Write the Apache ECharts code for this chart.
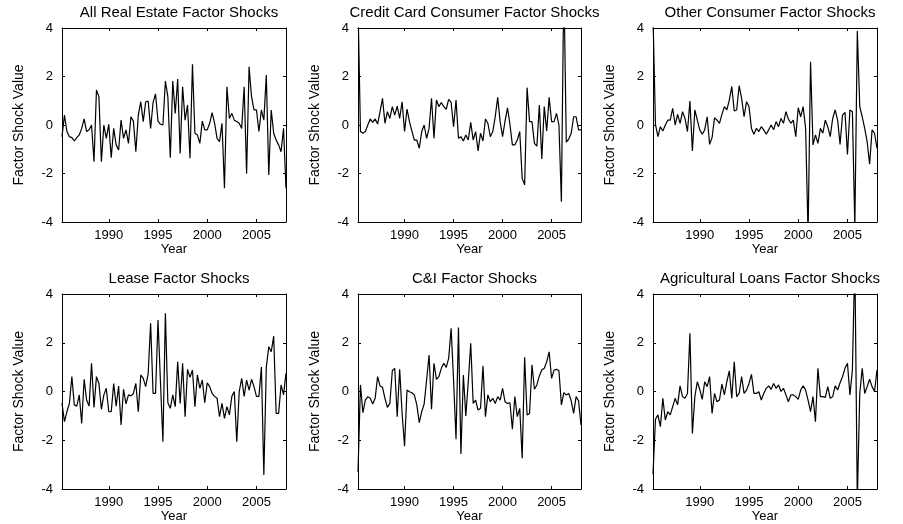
<!DOCTYPE html>
<html>
<head>
<meta charset="utf-8">
<script src="https://cdn.jsdelivr.net/npm/echarts@6/dist/echarts.min.js"></script>
<style>
  html, body { margin: 0; padding: 0; background: #fff; }
  #chart { width: 903px; height: 524px; }
</style>
</head>
<body>
<div id="chart"></div>
<script>
// quarterly factor shocks, first quarter plotted at 1985.25
const firstQuarter = 1985.25;
const lastQuarter = 2008;
const yearTicks = [1990, 1995, 2000, 2005];
const shockTicks = [-4, -2, 0, 2, 4];

const panelTitles = [
  'All Real Estate Factor Shocks',
  'Credit Card Consumer Factor Shocks',
  'Other Consumer Factor Shocks',
  'Lease Factor Shocks',
  'C&I Factor Shocks',
  'Agricultural Loans Factor Shocks'
];

const realEstate = [
  -0.48, 0.41, -0.27, -0.48, -0.52, -0.66, -0.52, -0.41, -0.14, 0.25,
  -0.27, -0.2, 0, -1.51, 1.44, 1.17, -1.51, 0, -0.55, 0.03,
  -1.35, -0.14, -0.82, -1.03, 0.2, -0.55, -0.2, -0.76, 0.34, 0.16,
  -1.1, 0.41, 0.96, 0.14, 0.96, 0.99, -0.14, 0.93, 1.28, 0.16,
  0.03, 0, 1.81, 1.17, -1.35, 1.81, 0.48, 1.9, -1.17, 1.58,
  0.2, 0.82, -1.37, 2.5, -0.34, -0.41, -0.76, 0.16, -0.2, -0.2,
  0.07, 0.51, 0.07, -0.55, -0.69, 0.07, -2.61, 1.58, 0.27, 0.48,
  0.2, 0.14, 0.07, -0.14, 1.58, -2.0, 2.4, 1.17, 0.62, 0.62,
  -0.27, 0.62, 0.2, 2.06, -2.06, 0.62, -0.34, -0.62, -0.82, -1.1,
  -0.14, -2.61
];

const creditCard = [
  5.0, -0.27, -0.34, -0.27, 0, 0.25, 0.11, 0.25, 0.04, 0.55,
  1.1, 0.07, 0.55, 0.27, 0.76, 0.41, 0.78, 0.27, 0.96, -0.27,
  0.66, 0.14, -0.25, -0.62, -0.62, -0.96, -0.27, 0, -0.55, -0.14,
  1.1, -0.55, 1.03, 0.76, 0.93, 0.76, 0.65, 1.06, 0.93, -0.07,
  1.03, -0.55, -0.48, -0.66, -0.41, -0.62, 0.11, -0.62, -0.27, -1.07,
  -0.34, -0.66, 0.25, 0.07, -0.48, -0.27, 0.34, 1.14, 0.14, -0.48,
  0.16, 0.71, 0.03, -0.82, -0.82, -0.62, -0.27, -2.2, -2.47, 1.54,
  0.14, 0.14, -0.76, -0.87, 0.82, -1.4, 0.76, -0.25, 1.14, 0.14,
  0.14, 0.48, 0, -3.16, 6.0, -0.71, -0.58, -0.34, 0.34, 0.34,
  -0.2, -0.2
];

const otherConsumer = [
  4.5, 0.03, -0.48, -0.07, -0.25, 0, 0.2, 0.2, 0.69, 0,
  0.44, 0.07, 0.55, 0.27, -0.27, 0.99, -1.07, 0.62, 0.2, -0.2,
  -0.38, -0.2, 0.34, -0.8, -0.52, 0.3, 0.2, 0.07, 0.44, 0.76,
  0.62, 1.03, 1.58, 0.58, 0.62, 1.62, 1.1, 0.34, 0.96, 0.76,
  -0.14, -0.38, -0.14, -0.27, -0.07, -0.2, -0.38, -0.2, 0, -0.2,
  0.14, -0.07, 0.27, 0.07, 0.55, 0.25, 0.07, 0.2, -0.48, 0.71,
  0.34, 0.76, -0.14, -4.5, 2.61, -0.82, -0.41, -0.76, -0.14, -0.34,
  0.2, -0.07, -0.48, 0.27, 0.62, 0.2, -0.8, 0.41, 0.52, -1.21,
  0.62, 0.55, -4.2, 3.88, 0.76, 0.34, -0.14, -0.69, -1.62, -0.2,
  -0.34, -0.96
];

const lease = [
  -0.49, -1.24, -0.83, -0.49, 0.61, -0.55, -0.6, -0.14, -1.31, 0.5,
  -0.35, -0.6, 1.16, -0.65, 0.61, 0.33, -0.73, -0.14, 0.13, -0.83,
  -0.83, 0.33, -0.6, 0.22, -1.37, 0.09, -0.51, -0.14, -0.18, -0.08,
  0.33, -0.83, 0.68, 0.54, 0.2, 0.72, 2.8, -0.08, -0.08, 2.93,
  0.4, -2.06, 3.21, -0.46, -0.69, -0.14, -0.62, 1.22, -0.49, 1.16,
  -1.03, 0.91, 0.58, 0.88, -0.62, 0.68, 0.13, 0.47, -0.46, 0.36,
  0.2, -0.08, -0.2, -0.28, -1.03, -0.49, -1.1, -0.62, -0.96, -0.2,
  0, -2.06, 0, 0.54, -0.2, 0.47, 0.06, 0.5, 0.2, -0.2,
  -0.2, 1.0, -3.43, 1.0, 1.84, 1.63, 2.27, -0.9, -0.9, 0.27,
  -0.14, 0.75
];

const commercialIndustrial = [
  -3.3, 0.27, -0.87, -0.35, -0.21, -0.28, -0.51, -0.28, 0.61, 0.23,
  0.17, -0.28, -0.65, -0.49, 0.85, 0.95, -1.03, 0.91, -0.9, -2.24,
  0.06, -0.01, -0.05, -0.14, -0.55, -1.28, -0.83, -0.51, 0.47, 1.5,
  -0.73, 1.16, 0.5, 0.61, 0.95, 1.16, 0.99, 1.36, 2.59, 0.47,
  -1.96, 2.63, -2.56, 0.68, -1.0, 0.4, 1.98, -0.49, -0.35, -0.76,
  -0.69, 1.05, -1.03, -0.14, -0.42, -0.28, -0.49, -0.21, -0.35, 0.13,
  -0.42, -0.49, -0.46, -1.55, -0.21, -1.03, -0.69, -2.74, 1.4, -0.96,
  -0.9, 1.09, 0.09, 0.27, 0.64, 0.88, 0.95, 1.22, 1.63, 0.54,
  0.88, 0.91, 0.85, -0.55, -0.05, -0.14, -0.08, -0.38, -0.9, -0.21,
  -0.38, -1.37
];

const agricultural = [
  -3.4, -1.14, -0.96, -1.44, -0.28, -1.17, -0.83, -0.96, -0.62, -0.28,
  -0.55, 0.23, -0.21, -0.28, -0.08, 2.39, -1.72, -0.21, 0.4, 0.09,
  -0.32, 0.4, 0.2, 0.61, -0.9, -0.08, -0.42, -0.35, 0.3, -0.14,
  0.4, 0.85, -0.28, 1.22, -0.21, -0.08, 0.61, -0.08, 0.06, 0.33,
  0.7, -0.08, -0.08, -0.01, -0.35, -0.08, 0.13, 0.23, 0.09, 0.33,
  0.13, 0.27, 0, 0.13, -0.14, -0.42, -0.14, -0.14, -0.21, -0.32,
  0.06, 0.23, 0.06, -0.35, -0.83, -0.21, -1.24, 0.95, -0.21, -0.21,
  -0.24, 0.2, -0.28, -0.21, 0.23, 0.06, 0.36, 0.61, 0.95, 1.16,
  -0.14, 0.88, 5.5, -4.5, -0.08, 0.95, -0.08, 0.2, 0.5, 0.2,
  0, 0.88
];

const panelSeries = [realEstate, creditCard, otherConsumer, lease, commercialIndustrial, agricultural];

const font = 'Liberation Sans, Arial, Helvetica, sans-serif';
const boxes = [
  { left: 62, top: 28, width: 224, height: 194 },
  { left: 358, top: 28, width: 223, height: 194 },
  { left: 653, top: 28, width: 224, height: 194 },
  { left: 62, top: 294, width: 224, height: 195 },
  { left: 358, top: 294, width: 223, height: 195 },
  { left: 653, top: 294, width: 224, height: 195 }
];

const chart = echarts.init(document.getElementById('chart'), null, { renderer: 'canvas' });

let grid = [], xAxis = [], yAxis = [], series = [], title = [];

boxes.forEach((b, k) => {
  grid.push(Object.assign({ containLabel: false, show: false }, b));
  title.push({
    text: panelTitles[k],
    left: b.left + b.width / 2,
    top: b.top - 28,
    textAlign: 'center',
    textStyle: { fontFamily: font, fontSize: 15, fontWeight: 'normal', color: '#000' }
  });

  const line = { show: true, onZero: false, lineStyle: { color: '#000', width: 1 } };
  const xTick = { show: true, inside: true, length: 3, customValues: yearTicks, lineStyle: { color: '#000' } };
  const yTick = { show: true, inside: true, length: 3, lineStyle: { color: '#000' } };

  // bottom and top x axes (MATLAB box with ticks on both sides)
  xAxis.push({
    type: 'value', gridIndex: k, position: 'bottom', min: firstQuarter, max: lastQuarter,
    axisLine: line, axisTick: xTick, splitLine: { show: false },
    axisLabel: {
      customValues: yearTicks, margin: 7, color: '#000', fontFamily: font, fontSize: 13,
      formatter: v => String(v)
    },
    name: 'Year', nameLocation: 'middle', nameGap: 20,
    nameTextStyle: { color: '#000', fontFamily: font, fontSize: 13 }
  });
  xAxis.push({
    type: 'value', gridIndex: k, position: 'top', min: firstQuarter, max: lastQuarter,
    axisLine: line, axisTick: xTick, splitLine: { show: false }, axisLabel: { show: false }
  });

  // left and right y axes
  yAxis.push({
    type: 'value', gridIndex: k, position: 'left', min: -4, max: 4, interval: 2,
    axisLine: line, axisTick: yTick, splitLine: { show: false },
    axisLabel: { margin: 9, color: '#000', fontFamily: font, fontSize: 13 },
    name: 'Factor Shock Value', nameLocation: 'middle', nameGap: 36,
    nameTextStyle: { color: '#000', fontFamily: font, fontSize: 14 }
  });
  yAxis.push({
    type: 'value', gridIndex: k, position: 'right', min: -4, max: 4, interval: 2,
    axisLine: line, axisTick: yTick, splitLine: { show: false }, axisLabel: { show: false }
  });

  series.push({
    type: 'line',
    xAxisIndex: 2 * k,
    yAxisIndex: 2 * k,
    data: panelSeries[k].map((v, i) => [firstQuarter + i * 0.25, v]),
    showSymbol: false,
    clip: true,
    lineStyle: { color: '#000', width: 1.2 },
    animation: false
  });
});

chart.setOption({
  backgroundColor: '#fff',
  animation: false,
  title: title,
  grid: grid,
  xAxis: xAxis,
  yAxis: yAxis,
  series: series
});
</script>
</body>
</html>
